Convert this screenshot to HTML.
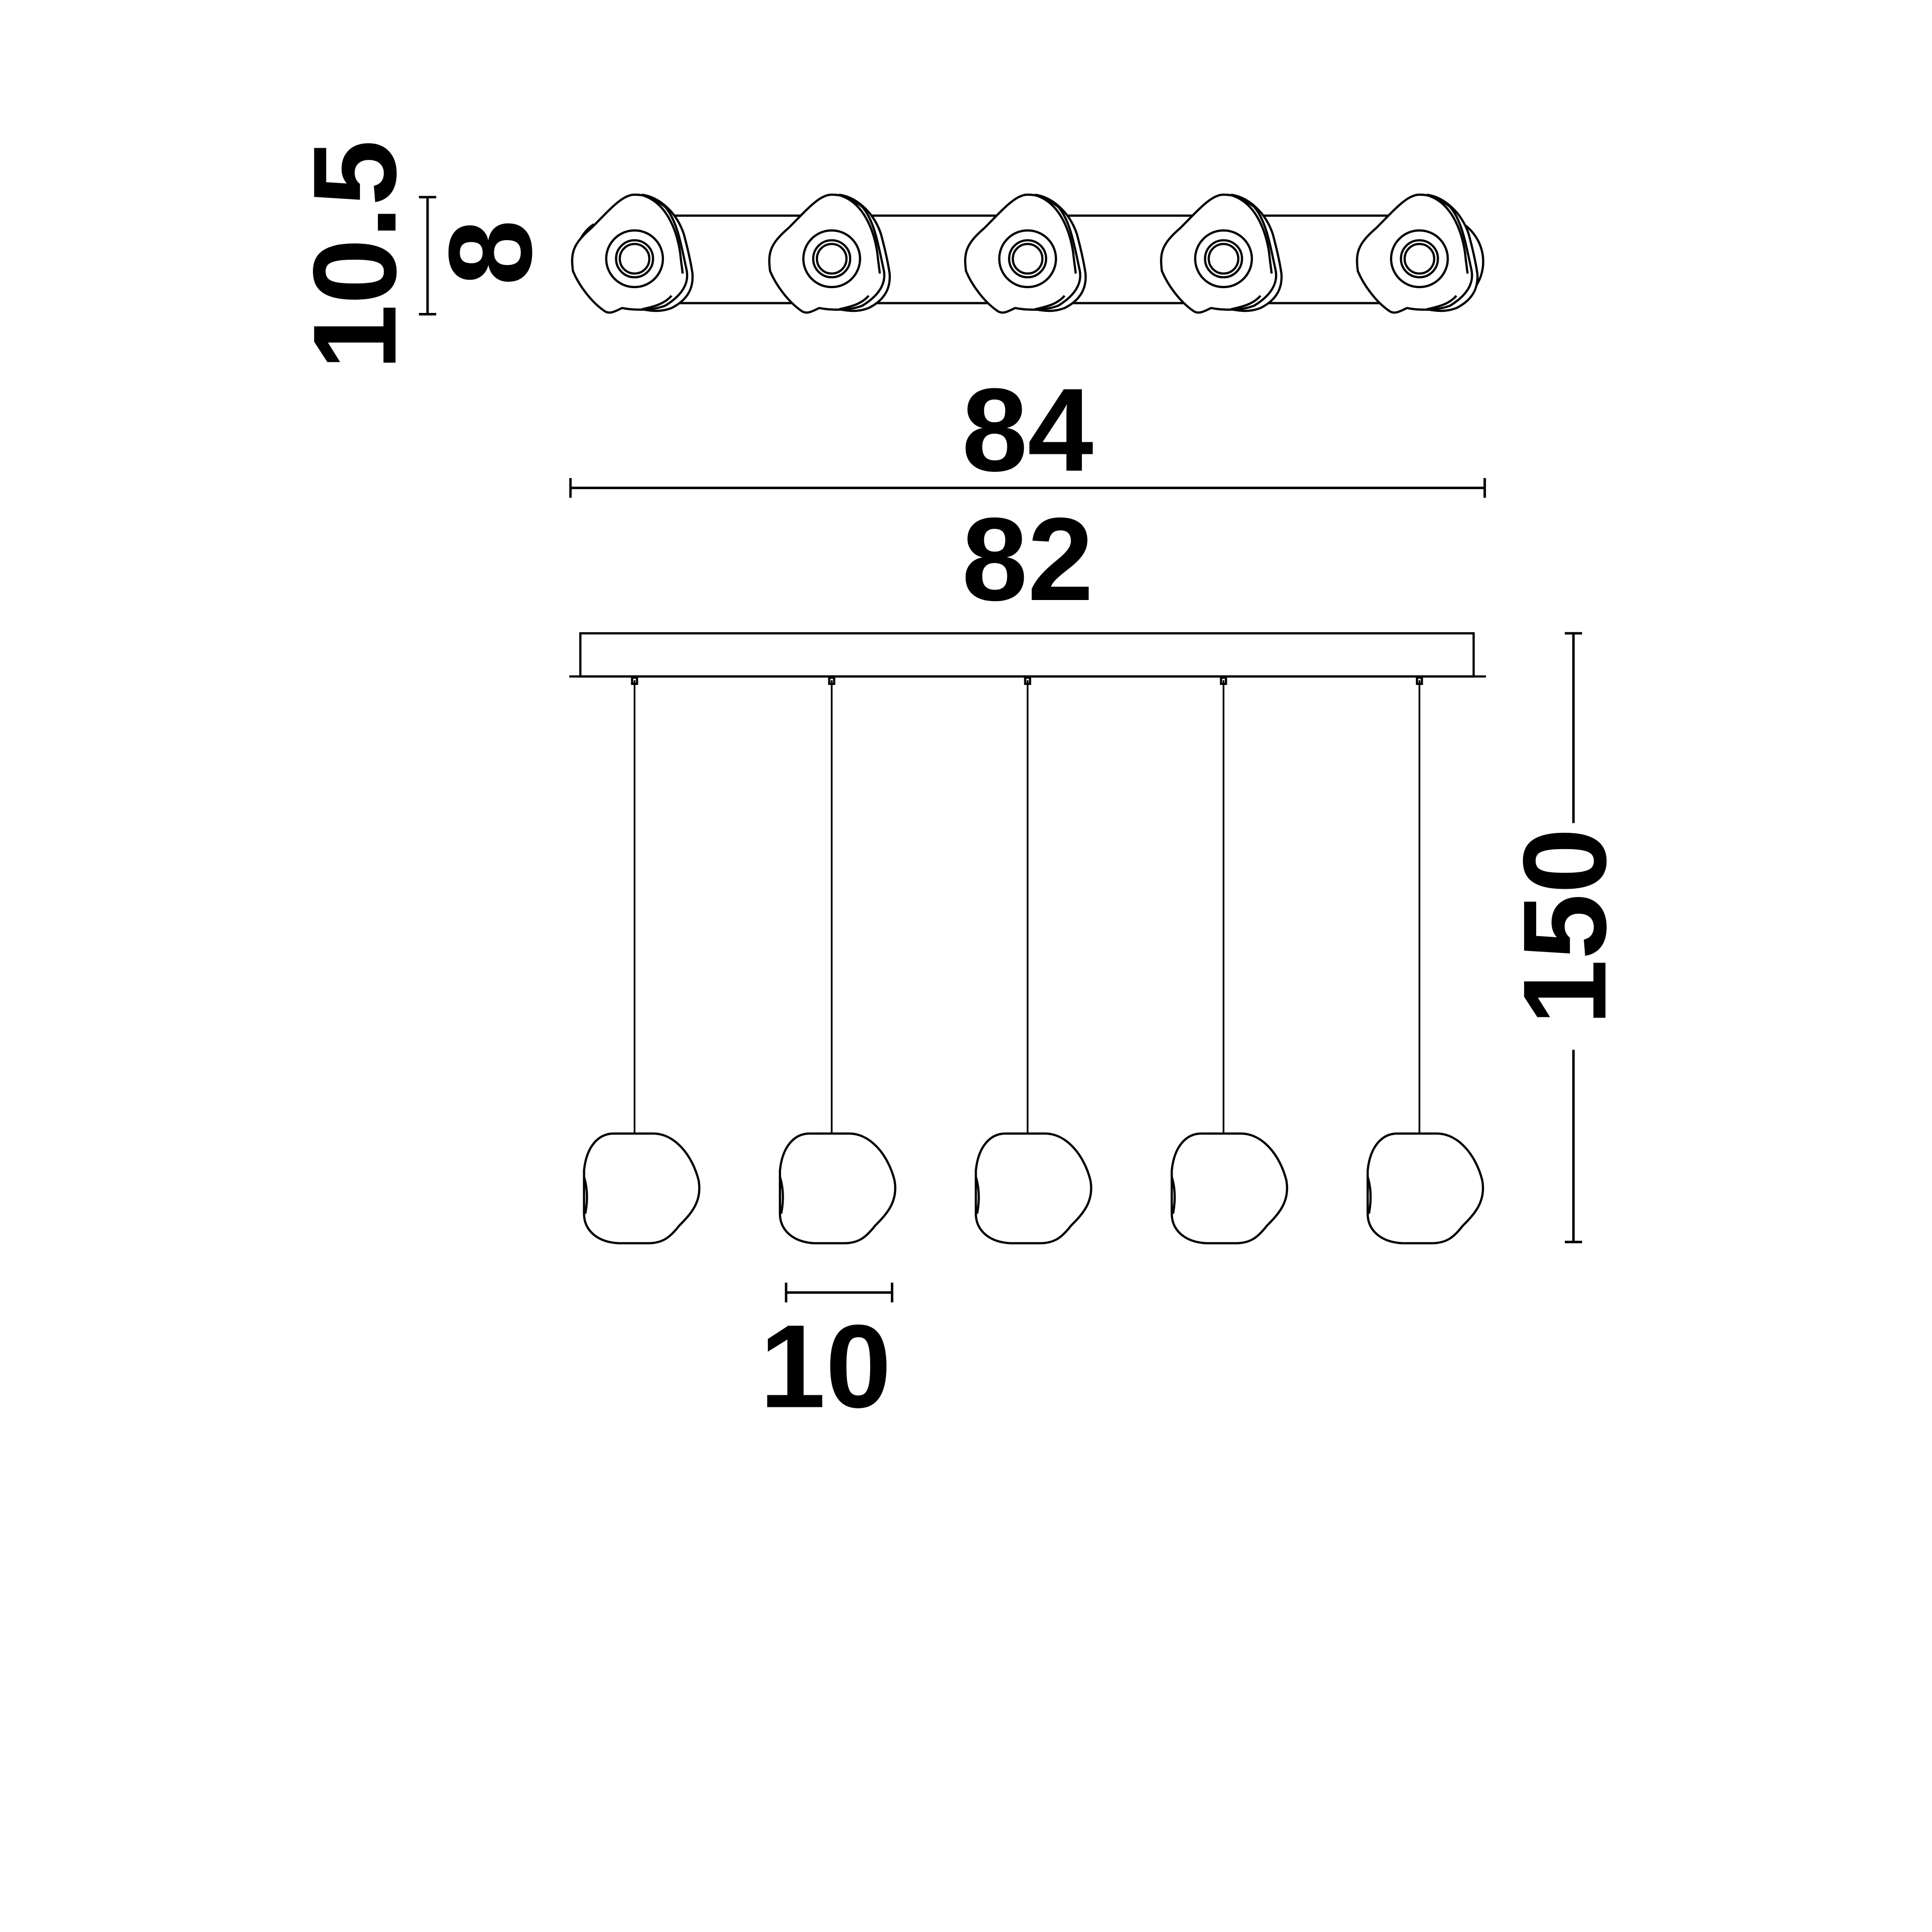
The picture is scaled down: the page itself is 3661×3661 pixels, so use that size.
<!DOCTYPE html>
<html><head><meta charset="utf-8"><style>
html,body{margin:0;padding:0;background:#fff;}
svg{display:block;}
text{font-family:"Liberation Sans",Arial,sans-serif;font-weight:bold;fill:#000;}
</style></head><body>
<svg width="3661" height="3661" viewBox="0 0 1568 1568" xmlns="http://www.w3.org/2000/svg">
<defs>
<g id="shade" fill="#fff" stroke="#000" stroke-width="1.8">
  <path d="M 6,-52 C 20,-50 34,-38 40,-20 C 44,-5 46,5 47,12 C 48,25 42,34 30,40 C 20,44 10,42 2,40" fill="#fff"/>
  <path d="M 0,-52 C -10,-52 -20,-40 -35,-25 C -50,-12 -52,-5 -50,10 C -45,22 -35,35 -25,42 C -20,46 -15,42 -10,40 C 0,42 15,42 25,38 C 38,30 45,20 42,8 C 38,-10 35,-30 25,-42 C 15,-50 8,-52 0,-52 Z"/>
  <path d="M 8,-51 C 25,-45 34,-25 37,-5 C 38,5 39,10 39,12" fill="none"/>
  <path d="M 30,30 C 24,37 15,39 6,41" fill="none"/>
  <circle r="23"/>
  <circle r="15"/>
  <circle r="12"/>
</g>
<g id="globe" fill="#fff" stroke="#000" stroke-width="1.8">
  <path d="M -18,920 L 14,920 C 32,920 46,938 51,958 C 54,975 45,985 35,995 C 28,1004 22,1009 10,1009 L -14,1009 C -32,1008 -42,998 -42,985 L -42,950 C -40,930 -30,920 -18,920 Z"/>
  <path d="M -42,955 C -39,965 -39,975 -41,985" fill="none"/>
</g>
</defs>
<g fill="none" stroke="#000" stroke-width="1.8">
  <path d="M 482,182 C 462,195 460,230 485,243" />
  <path d="M 1185,180 C 1210,195 1210,230 1185,244" />
  <line x1="540" y1="175" x2="1175" y2="175"/>
  <line x1="540" y1="246" x2="1175" y2="246"/>
</g>
<use href="#shade" x="515" y="210"/>
<use href="#shade" x="675" y="210"/>
<use href="#shade" x="834" y="210"/>
<use href="#shade" x="993" y="210"/>
<use href="#shade" x="1152" y="210"/>

<g stroke="#000" stroke-width="2" fill="none">
  <line x1="347" y1="160" x2="347" y2="255"/>
  <line x1="340" y1="160" x2="354" y2="160"/>
  <line x1="340" y1="255" x2="354" y2="255"/>
  <line x1="463" y1="396" x2="1205" y2="396"/>
  <line x1="463" y1="388" x2="463" y2="404"/>
  <line x1="1205" y1="388" x2="1205" y2="404"/>
  <line x1="638" y1="1049" x2="724" y2="1049"/>
  <line x1="638" y1="1041" x2="638" y2="1057"/>
  <line x1="724" y1="1041" x2="724" y2="1057"/>
  <line x1="1277" y1="514" x2="1277" y2="668"/>
  <line x1="1277" y1="852" x2="1277" y2="1008"/>
  <line x1="1270" y1="514" x2="1284" y2="514"/>
  <line x1="1270" y1="1008" x2="1284" y2="1008"/>
</g>
<text x="0" y="0" font-size="96" text-anchor="middle" transform="translate(321,207) rotate(-90)">10.5</text>
<text x="0" y="0" font-size="96" text-anchor="middle" transform="translate(431,205) rotate(-90)">8</text>
<text x="834" y="382" font-size="96" text-anchor="middle">84</text>
<text x="834" y="487" font-size="96" text-anchor="middle">82</text>
<text x="670" y="1142" font-size="96" text-anchor="middle">10</text>
<text x="0" y="0" font-size="96" text-anchor="middle" transform="translate(1303,752) rotate(-90)">150</text>

<g stroke="#000" stroke-width="1.8" fill="none">
  <rect x="471" y="514" width="725" height="35"/>
  <line x1="462" y1="549" x2="1206" y2="549"/>
  <g stroke-width="1.4">
    <line x1="515" y1="552" x2="515" y2="920"/>
    <line x1="675" y1="552" x2="675" y2="920"/>
    <line x1="834" y1="552" x2="834" y2="920"/>
    <line x1="993" y1="552" x2="993" y2="920"/>
    <line x1="1152" y1="552" x2="1152" y2="920"/>
  </g>
  <rect x="513" y="550" width="4" height="5"/>
  <rect x="673" y="550" width="4" height="5"/>
  <rect x="832" y="550" width="4" height="5"/>
  <rect x="991" y="550" width="4" height="5"/>
  <rect x="1150" y="550" width="4" height="5"/>
</g>
<use href="#globe" x="516" y="0"/>
<use href="#globe" x="675" y="0"/>
<use href="#globe" x="834" y="0"/>
<use href="#globe" x="993" y="0"/>
<use href="#globe" x="1152" y="0"/>
</svg>
</body></html>
